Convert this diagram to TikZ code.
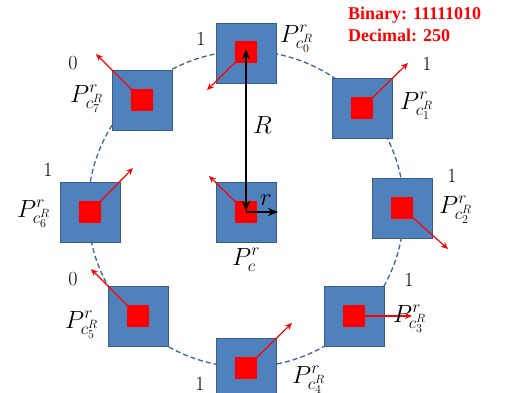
\documentclass[tikz,border=0pt]{standalone}
\usepackage{fontspec}
\newfontfamily\timesf{Liberation Serif}
\usetikzlibrary{arrows.meta}
\definecolor{sqblue}{RGB}{79,129,189}
\definecolor{sqedge}{RGB}{56,93,138}
\definecolor{circblue}{RGB}{56,100,160}
\begin{document}
\begin{tikzpicture}[x=1pt,y=-1pt,
  bluesq/.style={draw=sqedge,line width=0.9pt,fill=sqblue,minimum size=60pt,inner sep=0pt,outer sep=0pt},
  redsq/.style={fill=red,minimum size=21.5pt,inner sep=0pt,outer sep=0pt},
  redarrow/.style={draw=red,line width=1.2pt,-{Stealth[length=7pt,width=6pt]}},
  blackarrow/.style={draw=black,line width=1.6pt,{Stealth[length=10pt,width=8pt]}-{Stealth[length=10pt,width=8pt]}},
  blackarrowone/.style={draw=black,line width=1.6pt,-{Stealth[length=10pt,width=8pt]}},
  plabel/.style={anchor=base west,inner sep=0pt,font=\fontsize{24}{28}\selectfont},
  bitlabel/.style={anchor=base,inner sep=0pt,font=\fontsize{20}{24}\selectfont},
  infolabel/.style={anchor=base west,inner sep=0pt,text=red,font=\timesf\bfseries\fontsize{18}{22}\selectfont},
  circ/.style={draw=circblue,line width=1.3pt,dash pattern=on 5pt off 3pt}]
\useasboundingbox (0,0) rectangle (506,392);
\clip (0,0) rectangle (506,392);
% dashed circle
\node[circ,circle,minimum size=316pt,inner sep=0pt] (ring) at (246,209) {};
% squares
\node[bluesq] (s0) at (246,53) {};
\node[bluesq] (s1) at (362,108) {};
\node[bluesq] (s2) at (402,208) {};
\node[bluesq] (s3) at (354,316) {};
\node[bluesq] (s4) at (246,368) {};
\node[bluesq] (s5) at (138,316) {};
\node[bluesq] (s6) at (90,212) {};
\node[bluesq] (s7) at (142,100) {};
\node[bluesq] (sc) at (246,212) {};
\node[redsq] (r0) at (246,52) {};
\node[redsq] (r1) at (362,108) {};
\node[redsq] (r2) at (402,208) {};
\node[redsq] (r3) at (354,316) {};
\node[redsq] (r4) at (246,368) {};
\node[redsq] (r5) at (138,316) {};
\node[redsq] (r6) at (90,212) {};
\node[redsq] (r7) at (142,100) {};
\node[redsq] (rc) at (246,212) {};
% arrow ends
\coordinate (a0) at (207,90);
\coordinate (a1) at (408,63);
\coordinate (a2) at (448,249);
\coordinate (a3) at (412,316);
\coordinate (a4) at (292,323);
\coordinate (a5) at (91,269);
\coordinate (a6) at (133,168);
\coordinate (a7) at (96,54);
\coordinate (ac) at (209,176);
\coordinate (rr) at (278,212);
\draw[redarrow] (r0.center) -- (a0);
\draw[redarrow] (r1.center) -- (a1);
\draw[redarrow] (r2.center) -- (a2);
\draw[redarrow] (r3.center) -- (a3);
\draw[redarrow] (r4.center) -- (a4);
\draw[redarrow] (r5.center) -- (a5);
\draw[redarrow] (r6.center) -- (a6);
\draw[redarrow] (r7.center) -- (a7);
\draw[redarrow] (rc.center) -- (ac);
% black arrows
\draw[blackarrow] ([yshift=1pt]rc.center) -- ([yshift=3pt]r0.center);
\draw[blackarrowone] (rc.center) -- (rr);
\node[plabel] (lR) at (253,133) {$R$};
\node[plabel] (lr) at (260,205) {$r$};
% P labels
\node[plabel] (p0) at (280,42) {$P^r_{c_0^R}$};
\node[plabel] (p1) at (400,109) {$P^r_{c_1^R}$};
\node[plabel] (p2) at (439,213) {$P^r_{c_2^R}$};
\node[plabel] (p3) at (393,322) {$P^r_{c_3^R}$};
\node[plabel] (p4) at (292,383) {$P^r_{c_4^R}$};
\node[plabel] (p5) at (65,328) {$P^r_{c_5^R}$};
\node[plabel] (p6) at (17,217) {$P^r_{c_6^R}$};
\node[plabel] (p7) at (70,102) {$P^r_{c_7^R}$};
\node[plabel] (pc) at (232,265) {$P^r_{c}$};
% bits
\node[bitlabel] (b0) at (201,45) {1};
\node[bitlabel] (b1) at (427,70) {1};
\node[bitlabel] (b2) at (452,182) {1};
\node[bitlabel] (b3) at (409,286) {1};
\node[bitlabel] (b4) at (200,390) {1};
\node[bitlabel] (b5) at (73,285) {0};
\node[bitlabel] (b6) at (48,176) {1};
\node[bitlabel] (b7) at (73,69) {0};
% info
\node[infolabel] (bin) at (348,19.5) {Binary: 11111010};
\node[infolabel] (dec) at (348,41) {Decimal: 250};
\end{tikzpicture}
\end{document}
